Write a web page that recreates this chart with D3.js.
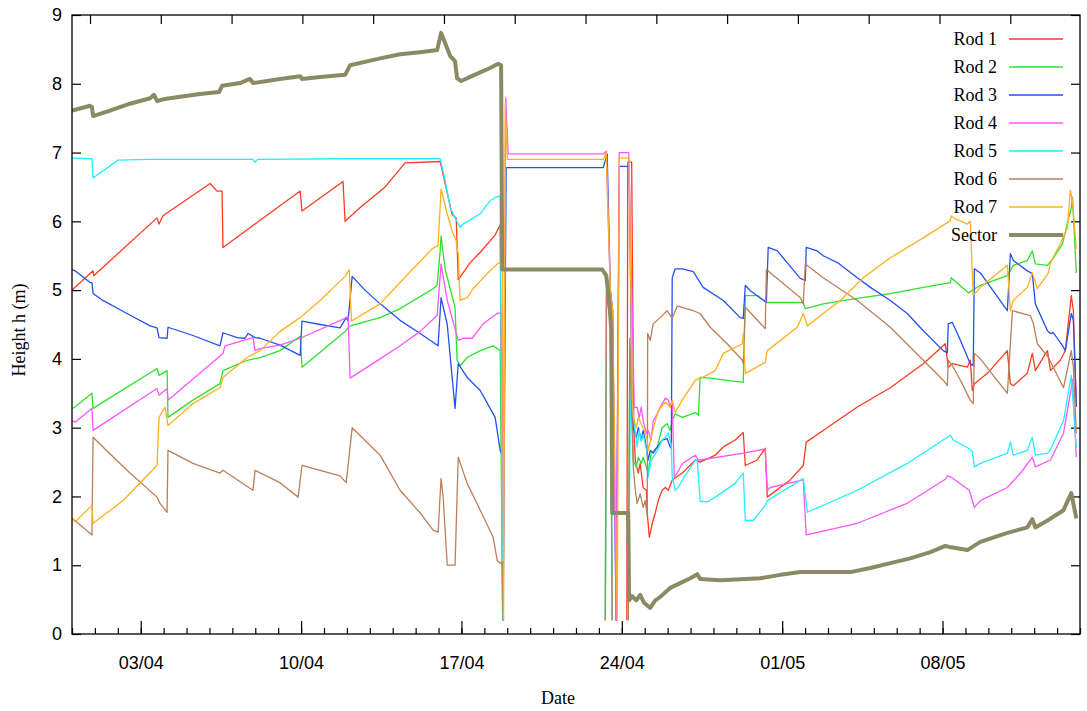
<!DOCTYPE html>
<html>
<head>
<meta charset="utf-8">
<script src="https://cdn.jsdelivr.net/npm/d3@7"></script>
<style>
  body { margin: 0; background: #fff; }
  svg { display: block; font-family: "Liberation Serif", "DejaVu Serif", serif; }
  .axis text { font-size: 18px; fill: #000; }
  .axis path { display: none; }
  .axis line { stroke: #000; stroke-width: 1.2; }
  .rod { fill: none; stroke-width: 1.3; stroke-linejoin: round; }
  .sector { fill: none; stroke-width: 4; stroke-linejoin: round; }
</style>
</head>
<body>
<svg width="1087" height="711"></svg>
<script>
// heights of the control rods and the sector, t = days since 31/03, h = metres
const rod1 = [[0,5.0],[0.92,5.28],[0.95,5.21],[3.71,6.05],[3.8,5.96],[3.97,6.08],[6.03,6.55],[6.33,6.44],[6.55,6.44],[6.59,5.62],[7.99,5.96],[9.96,6.44],[10.04,6.15],[11.83,6.58],[11.92,6.0],[12.58,6.2],[13.67,6.5],[14.54,6.85],[16.07,6.87],[16.59,6.1],[16.77,6.05],[16.86,5.15],[17.38,5.4],[17.82,5.55],[18.47,5.8],[18.69,5.95],[18.8,0.2],[18.85,null],
  [24.22,0.2],[24.26,6.86],[24.43,6.86],[24.52,3.0],[24.59,2.52],[24.72,2.34],[24.8,2.48],[24.93,2.13],[25.07,2.09],[25.11,1.76],[25.2,1.41],[25.33,1.61],[25.46,1.76],[25.59,1.94],[25.76,2.09],[25.9,2.13],[26.03,2.09],[26.2,2.24],[26.64,2.34],[27.21,2.53],[27.42,2.5],[28.08,2.6],[28.43,2.72],[28.95,2.82],[29.3,2.93],[29.39,2.45],[29.91,2.53],[30.26,2.7],[30.35,1.99],[31.35,2.24],[31.92,2.45],[32.05,2.79],[32.79,2.96],[34.28,3.3],[35.72,3.58],[37.16,3.93],[38.12,4.22],[38.25,3.88],[38.43,3.93],[39.08,3.88],[39.21,3.98],[39.3,3.54],[39.39,3.64],[39.96,3.79],[40.83,4.12],[40.96,3.64],[41.09,3.61],[41.7,3.79],[41.92,4.08],[42.05,3.83],[42.58,4.12],[42.71,3.83],[43.14,3.98],[43.36,4.12],[43.62,4.92],[43.71,4.7],[43.84,3.3]];

const rod2 = [[0,3.28],[0.13,3.3],[0.87,3.5],[0.92,3.28],[3.71,3.86],[3.8,3.76],[4.15,3.83],[4.19,3.15],[5.28,3.4],[6.46,3.64],[6.59,3.83],[7.64,3.98],[8.21,4.02],[9.08,4.12],[9.96,4.33],[10.04,3.88],[11.92,4.4],[12.14,4.48],[13.45,4.6],[14.32,4.73],[15.76,5.02],[15.94,5.07],[16.07,5.57],[16.11,5.79],[16.29,5.3],[16.72,4.75],[16.81,3.98],[16.94,3.9],[17.25,4.02],[17.82,4.12],[18.38,4.19],[18.69,4.12],[18.8,0.2],[18.85,null],
  [23.28,0.2],[23.33,4.9],[23.5,4.6],[23.58,0.2],[23.62,null],[24.28,0.2],[24.35,4.2],[24.5,2.52],[24.63,2.43],[24.72,2.57],[24.85,2.48],[24.93,2.57],[25.07,2.43],[25.15,2.34],[25.28,2.63],[25.55,2.72],[25.76,3.0],[25.98,3.06],[26.11,2.96],[26.2,3.1],[26.33,3.2],[26.64,3.15],[27.21,3.22],[27.34,3.18],[27.42,3.73],[27.86,3.72],[29.3,3.66],[29.39,4.92],[29.91,4.92],[30.35,4.82],[31.92,4.82],[32.01,4.73],[32.79,4.8],[34.28,4.88],[35.72,4.95],[37.16,5.04],[38.34,5.11],[38.38,5.18],[39.13,4.96],[39.65,5.07],[40.83,5.21],[41.09,5.36],[41.7,5.43],[41.92,5.57],[42.05,5.38],[42.58,5.36],[42.84,5.47],[43.23,5.67],[43.62,6.2],[43.67,6.35],[43.84,5.25]];

const rod3 = [[0,5.3],[0.13,5.28],[0.79,5.11],[0.87,5.11],[0.92,4.95],[1.35,4.85],[2.4,4.66],[3.41,4.48],[3.71,4.45],[3.8,4.31],[4.15,4.3],[4.19,4.46],[5.28,4.34],[6.46,4.19],[6.59,4.38],[7.21,4.31],[7.55,4.3],[7.69,4.37],[7.99,4.31],[8.21,4.3],[9.08,4.2],[9.96,4.05],[10.04,4.55],[10.83,4.5],[11.7,4.45],[11.97,4.6],[12.05,4.55],[12.23,5.2],[12.79,5.0],[13.45,4.8],[14.32,4.56],[15.2,4.37],[15.63,4.27],[15.98,4.19],[16.11,4.89],[16.38,4.5],[16.72,3.28],[16.86,3.93],[17.25,3.73],[17.82,3.54],[18.47,3.15],[18.69,2.67],[18.78,2.6],[18.82,0.2],[18.95,6.78],[23.19,6.78],[23.36,6.98],[23.5,5.0],[23.6,4.7],[23.75,0.2],[23.89,6.8],[24.32,6.8],
  [24.45,3.2],[24.5,3.0],[24.63,2.86],[24.72,3.0],[24.85,2.82],[24.93,2.96],[25.07,2.72],[25.15,2.53],[25.24,2.67],[25.37,2.63],[25.55,2.72],[25.76,2.82],[25.98,2.84],[26.11,2.72],[26.16,2.7],[26.2,5.18],[26.33,5.31],[26.64,5.31],[27.12,5.27],[27.55,5.04],[28.43,4.85],[29.17,4.6],[29.3,4.59],[29.39,5.07],[29.61,4.99],[30.31,4.82],[30.39,5.62],[30.79,5.57],[31.79,5.17],[32.01,5.14],[32.05,5.62],[32.53,5.57],[32.79,5.5],[33.41,5.4],[34.28,5.18],[34.85,5.04],[35.72,4.85],[36.46,4.66],[37.16,4.41],[38.03,4.12],[38.21,4.09],[38.25,4.51],[38.43,4.53],[38.78,4.27],[39.21,3.93],[39.34,3.9],[39.39,5.31],[39.65,5.25],[40.83,4.7],[40.96,5.53],[41.09,5.43],[41.7,5.28],[41.92,5.24],[42.05,4.8],[42.58,4.41],[42.71,4.37],[42.84,4.38],[43.28,4.17],[43.36,4.12],[43.62,4.66],[43.71,4.56],[43.84,3.32]];

const rod4 = [[0,3.1],[0.13,3.08],[0.87,3.28],[0.92,2.96],[3.71,3.57],[3.8,3.47],[4.15,3.57],[4.19,3.4],[6.59,4.08],[6.68,4.19],[7.9,4.31],[7.99,4.12],[8.21,4.15],[9.08,4.2],[9.96,4.3],[11.92,4.59],[12.05,4.62],[12.14,3.72],[13.45,4.0],[14.32,4.19],[15.2,4.4],[15.94,4.63],[16.11,5.38],[16.38,4.85],[16.86,4.27],[17.07,4.3],[17.47,4.3],[17.95,4.51],[18.56,4.66],[18.78,4.67],[18.82,0.2],[18.93,7.8],[19.04,6.98],[23.19,6.98],[23.32,7.02],[23.5,5.0],[23.6,4.7],[23.75,0.2],[23.89,7.0],[24.3,7.0],
  [24.5,4.0],[24.54,3.29],[24.67,3.3],[24.76,3.15],[24.85,3.3],[24.93,3.1],[25.07,2.92],[25.15,2.96],[25.28,2.82],[25.37,3.1],[25.55,3.2],[25.68,3.3],[25.9,3.43],[26.03,3.4],[26.11,3.3],[26.2,3.4],[26.29,2.28],[26.42,2.34],[26.64,2.48],[27.21,2.6],[27.34,2.53],[27.42,2.53],[29.3,2.63],[30.26,2.69],[30.35,2.09],[30.48,2.13],[31.92,2.24],[32.05,1.44],[34.28,1.61],[36.46,1.9],[38.12,2.25],[38.21,2.3],[38.38,2.28],[39.17,2.09],[39.39,1.84],[39.65,1.94],[40.83,2.13],[41.4,2.34],[41.92,2.57],[42.05,2.43],[42.71,2.53],[43.28,2.92],[43.62,3.58],[43.67,3.7],[43.84,2.57]];

const rod5 = [[0,6.92],[0.87,6.91],[0.92,6.63],[2.01,6.89],[3.41,6.9],[7.9,6.9],[7.99,6.86],[8.1,6.9],[12,6.91],[16.07,6.91],[16.29,6.59],[16.51,6.2],[16.72,6.05],[16.94,5.91],[17.07,5.96],[17.82,6.11],[18.25,6.3],[18.47,6.35],[18.69,6.37],[18.8,0.2],[18.85,null],
  [23.28,0.2],[23.33,5.1],[23.5,4.7],[23.58,0.2],[23.62,null],[24.28,0.2],[24.38,3.5],[24.59,2.92],[24.67,2.72],[24.76,2.96],[24.85,2.8],[24.93,2.9],[25.11,2.63],[25.15,2.28],[25.28,2.52],[25.55,2.67],[25.76,2.82],[25.9,2.86],[26.03,2.92],[26.16,2.75],[26.2,2.28],[26.33,2.09],[26.46,2.13],[26.64,2.24],[27.21,2.53],[27.29,2.53],[27.42,1.93],[27.73,1.92],[28.08,1.99],[28.95,2.19],[29.3,2.34],[29.39,1.65],[29.74,1.65],[30.26,1.87],[30.35,1.94],[31.92,2.26],[32.1,1.77],[34.28,2.09],[36.46,2.48],[38.34,2.89],[38.47,2.82],[39.13,2.7],[39.3,2.65],[39.39,2.43],[39.65,2.48],[40.83,2.63],[40.96,2.79],[41.09,2.6],[41.7,2.67],[41.92,2.86],[42.05,2.6],[42.58,2.63],[42.71,2.68],[43.28,3.1],[43.62,3.76],[43.84,2.7]];

const rod6 = [[0,1.68],[0.13,1.65],[0.87,1.44],[0.92,2.86],[1.35,2.72],[2.4,2.38],[3.71,1.99],[3.84,1.9],[4.15,1.77],[4.19,2.67],[5.28,2.48],[6.46,2.34],[6.59,2.38],[7.9,2.09],[7.99,2.38],[9.08,2.2],[9.87,1.99],[10.04,2.45],[11.7,2.3],[11.97,2.2],[12.23,3.0],[13.45,2.6],[14.32,2.09],[15.2,1.76],[15.76,1.51],[15.98,1.48],[16.11,2.26],[16.2,2.0],[16.38,1.0],[16.72,1.0],[16.86,2.57],[17.25,2.19],[17.82,1.8],[18.38,1.41],[18.56,1.07],[18.69,1.03],[18.78,1.05],[18.82,0.2],[18.87,null],
  [23.28,0.2],[23.33,5.0],[23.5,4.6],[23.58,0.2],[23.62,null],[24.28,0.2],[24.35,4.3],[24.5,2.42],[24.59,2.09],[24.67,1.9],[24.8,2.04],[24.93,1.84],[25.02,1.94],[25.11,1.73],[25.13,4.37],[25.24,4.27],[25.37,4.51],[25.68,4.6],[25.98,4.7],[26.2,4.59],[26.42,4.77],[27.12,4.7],[27.42,4.66],[27.86,4.46],[28.6,4.22],[29.26,3.98],[29.3,3.93],[29.39,4.75],[30.26,4.44],[30.31,5.3],[31.79,4.89],[31.92,4.8],[32.01,5.38],[32.79,5.18],[34.28,4.85],[35.72,4.46],[37.16,3.98],[38.03,3.69],[38.21,3.61],[38.25,3.98],[38.43,3.9],[38.78,3.69],[39.21,3.4],[39.34,3.35],[39.39,4.08],[39.65,4.0],[40.83,3.5],[41.05,4.7],[41.83,4.63],[41.97,4.51],[42.14,4.22],[42.62,4.02],[43.28,3.58],[43.62,4.12],[43.71,3.88],[43.84,2.92]];

const rod7 = [[0,1.68],[0.13,1.63],[0.87,1.87],[0.92,1.61],[2.23,1.94],[3.71,2.45],[3.8,3.15],[4.06,3.3],[4.19,3.03],[5.28,3.35],[6.46,3.58],[6.59,3.73],[7.64,4.02],[8.21,4.12],[9.08,4.4],[9.96,4.6],[10.83,4.85],[11.92,5.2],[12.1,5.3],[12.2,4.55],[13.45,4.8],[14.32,5.11],[15.72,5.6],[15.98,5.65],[16.11,6.47],[16.38,6.11],[16.59,5.86],[16.77,5.72],[16.81,5.6],[16.86,5.53],[16.94,4.85],[17.25,4.89],[17.51,5.02],[18.12,5.24],[18.56,5.38],[18.69,5.4],[18.8,5.4],[18.84,0.2],[18.91,7.7],[19.0,6.9],[23.19,6.9],[23.32,7.0],[23.5,5.0],[23.6,4.7],[23.8,0.2],[23.89,6.92],[24.32,6.92],
  [24.45,3.5],[24.5,3.15],[24.63,3.0],[24.72,3.15],[24.85,3.05],[24.98,2.96],[25.11,2.82],[25.15,2.67],[25.28,2.86],[25.46,3.1],[25.59,3.25],[25.9,3.37],[26.11,3.3],[26.2,3.4],[26.33,3.22],[26.64,3.4],[27.21,3.69],[27.51,3.73],[28.08,3.83],[28.43,4.08],[29.26,4.22],[29.3,4.37],[29.39,3.79],[29.61,3.83],[30.26,3.95],[30.35,4.12],[31.66,4.46],[31.92,4.66],[32.1,4.48],[32.79,4.66],[33.54,4.85],[34.54,5.18],[35.72,5.47],[37.16,5.76],[38.34,6.01],[38.38,6.08],[38.47,6.05],[39.08,5.96],[39.21,6.0],[39.34,4.92],[39.65,5.04],[40.83,5.36],[40.96,4.7],[41.09,4.85],[41.7,5.04],[41.92,5.25],[42.14,5.02],[42.62,5.25],[42.71,5.4],[43.14,5.67],[43.45,5.91],[43.58,6.45],[43.67,6.3],[43.84,5.6]];

const sector = [[0,7.61],[0.79,7.68],[0.87,7.66],[0.92,7.53],[1.66,7.61],[2.53,7.71],[3.41,7.79],[3.58,7.84],[3.71,7.75],[4.06,7.78],[4.72,7.81],[5.59,7.85],[6.42,7.88],[6.55,7.97],[7.34,8.01],[7.77,8.07],[7.9,8.01],[9.08,8.07],[9.96,8.11],[10.04,8.07],[10.83,8.1],[11.92,8.13],[12.14,8.27],[13.45,8.37],[14.32,8.43],[15.2,8.46],[15.94,8.49],[16.11,8.74],[16.29,8.59],[16.51,8.4],[16.72,8.33],[16.81,8.08],[16.99,8.04],[17.38,8.1],[18.25,8.23],[18.6,8.29],[18.73,8.27],[18.78,5.3],
  [23.14,5.3],[23.32,5.21],[23.45,4.85],[23.54,4.41],[23.58,1.76],[24.28,1.76],[24.32,0.49],[24.45,0.55],[24.63,0.49],[24.8,0.57],[24.98,0.45],[25.24,0.38],[25.46,0.49],[25.68,0.54],[26.11,0.67],[26.55,0.74],[26.99,0.81],[27.29,0.87],[27.42,0.8],[28.3,0.78],[30.04,0.81],[30.92,0.86],[31.79,0.9],[33.97,0.9],[34.85,0.96],[35.72,1.03],[36.59,1.1],[37.47,1.19],[38.12,1.28],[38.38,1.26],[39.08,1.22],[39.65,1.34],[40.83,1.47],[41.7,1.55],[41.92,1.67],[42.05,1.55],[42.58,1.65],[43.28,1.8],[43.62,2.05],[43.84,1.68]];

const seriesNames = ['Rod 1', 'Rod 2', 'Rod 3', 'Rod 4', 'Rod 5', 'Rod 6', 'Rod 7', 'Sector'];
const seriesData = [rod1, rod2, rod3, rod4, rod5, rod6, rod7, sector];
const colors = ['#ff3b1f', '#2ee02e', '#2450f0', '#ff55ff', '#22eeff', '#bb7f5a', '#ffb020', '#8c8a64'];
const yTicks = [0, 1, 2, 3, 4, 5, 6, 7, 8, 9];

const width = 1087;
const height = 711;
const margin = { top: 15, right: 7, bottom: 77, left: 72 };
const start = Date.UTC(2011, 2, 31);
const day = 864e5;

const svg = d3.select('svg');

const x = d3.scaleUtc()
    .domain([new Date(start), new Date(start + 44 * day)])
    .range([margin.left, width - margin.right]);

const y = d3.scaleLinear()
    .domain([0, 9])
    .range([height - margin.bottom, margin.top]);

const toDate = t => new Date(start + t * day);

svg.append('defs').append('clipPath')
    .attr('id', 'plot')
    .append('rect')
    .attr('x', margin.left)
    .attr('y', margin.top)
    .attr('width', width - margin.left - margin.right)
    .attr('height', height - margin.top - margin.bottom);

// minor ticks every day, weekly labels
svg.append('g')
    .attr('class', 'axis')
    .attr('transform', `translate(0,${height - margin.bottom})`)
    .call(d3.axisBottom(x).ticks(d3.utcDay.every(1)).tickSize(-6).tickFormat(''));

svg.append('g')
    .attr('class', 'axis')
    .attr('transform', `translate(0,${height - margin.bottom})`)
    .call(d3.axisBottom(x).ticks(d3.utcSunday.every(1)).tickSize(-13).tickPadding(22)
        .tickFormat(d3.utcFormat('%d/%m')));

svg.append('g')
    .attr('class', 'axis')
    .attr('transform', `translate(${margin.left},0)`)
    .call(d3.axisLeft(y).tickValues(yTicks).tickSize(-9).tickPadding(10).tickFormat(d3.format('d')));

// mirrored ticks on the right and top
svg.append('g')
    .attr('class', 'axis')
    .attr('transform', `translate(${width - margin.right},0)`)
    .call(d3.axisRight(y).tickValues(yTicks).tickSize(-9).tickFormat(''));

const topTicks = d3.range(14).map(k => toDate(0.786 + k * 3.09));
svg.append('g')
    .attr('class', 'axis')
    .attr('transform', `translate(0,${margin.top})`)
    .call(d3.axisTop(x).tickValues(topTicks).tickSize(-9).tickFormat(''));

const line = d3.line()
    .defined(d => d[1] !== null)
    .x(d => x(toDate(d[0])))
    .y(d => y(d[1]));

svg.append('g')
    .attr('clip-path', 'url(#plot)')
    .selectAll('path')
    .data(seriesData)
    .enter().append('path')
    .attr('class', (d, i) => i === 7 ? 'sector' : 'rod')
    .attr('stroke', (d, i) => colors[i])
    .attr('d', line);

svg.append('rect')
    .attr('x', margin.left)
    .attr('y', margin.top)
    .attr('width', width - margin.left - margin.right)
    .attr('height', height - margin.top - margin.bottom)
    .attr('fill', 'none')
    .attr('stroke', '#000')
    .attr('stroke-width', 1.3);

// legend
const legend = svg.append('g')
    .selectAll('g')
    .data(seriesNames)
    .enter().append('g')
    .attr('transform', (d, i) => `translate(0,${39 + i * 28})`);

legend.append('text')
    .attr('x', 997)
    .attr('dy', '0.35em')
    .attr('text-anchor', 'end')
    .style('font-size', '18px')
    .text(d => d);

legend.append('line')
    .attr('x1', 1009)
    .attr('x2', 1063)
    .attr('stroke', (d, i) => colors[i])
    .attr('stroke-width', (d, i) => i === 7 ? 4 : 1.3);

svg.append('text')
    .attr('x', 558)
    .attr('y', 704)
    .attr('text-anchor', 'middle')
    .style('font-size', '18px')
    .text('Date');

svg.append('text')
    .attr('transform', 'translate(25,330) rotate(-90)')
    .attr('text-anchor', 'middle')
    .style('font-size', '18px')
    .text('Height h (m)');
</script>
</body>
</html>
